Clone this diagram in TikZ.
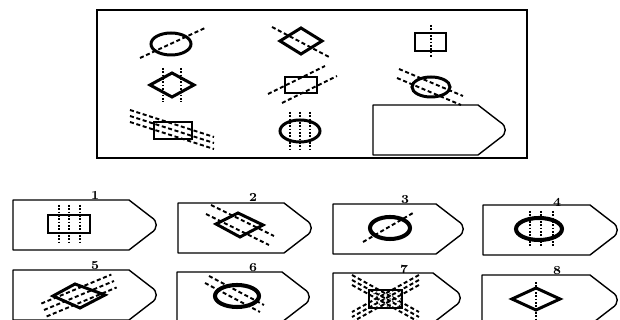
\documentclass[tikz,border=0pt]{standalone}
\usetikzlibrary{patterns}

\begin{document}
\begin{tikzpicture}[
    x=0.02cm, y=-0.02cm,
    frame/.style={draw, line width=0.9pt},
    tagline/.style={draw, line width=0.8pt, line join=round},
    fig/.style={draw, line width=1.7pt},
    heavy/.style={draw, line width=2.3pt},
    dashln/.style={line width=1.1pt, dash pattern=on 2.3pt off 1.5pt},
    dotln/.style={line width=1.3pt, dash pattern=on 1pt off 0.9pt},
    num/.style={font=\fontsize{7}{7}\selectfont\bfseries, inner sep=0pt}
]
    \path[use as bounding box, clip] (0,0) rectangle (620,320);

    % question panel
    \draw[frame] (97,10) rectangle (527,158);

    % row 1
    \draw[fig] (171,44) ellipse [x radius=20, y radius=11];
    \draw[dashln] (140,58) -- (205,28);
    \draw[fig] (280,41) -- (301,28) -- (322,41) -- (301,54) -- cycle;
    \draw[dashln] (272,27) -- (331,58);
    \draw[fig] (415,33) rectangle (446,51);
    \draw[dotln] (431,25) -- (431,58);

    % row 2
    \draw[fig] (150,85) -- (172,73) -- (194,85) -- (172,97) -- cycle;
    \draw[dotln] (163,68) -- (163,102);
    \draw[dotln] (181,68) -- (181,102);
    \draw[fig] (285,77) rectangle (317,93);
    \draw[dashln] (268,94) -- (325,66);
    \draw[dashln] (282,103) -- (337,76);
    \draw[fig] (431,87) ellipse [x radius=19, y radius=10];
    \draw[dashln] (399,69) -- (463,96);
    \draw[dashln] (397,78) -- (461,105);

    % row 3
    \draw[fig] (154,122) rectangle (192,139);
    \foreach \d in {-6,0,6}
        \draw[dashln] (130,130+\d-14) -- (214,130+\d+13);
    \draw[fig] (300,131) ellipse [x radius=20, y radius=11];
    \foreach \d in {-10,0,10}
        \draw[dotln] (300+\d,112) -- (300+\d,149);

    % empty slot and the eight answer tags: left corner x/y and width
    \foreach \x/\y/\w in {373/105/133,
                          13/200/144, 178/203/134, 333/204/131, 483/205/135,
                          13/270/144, 177/272/133, 333/273/128, 482/275/136}
        \draw[tagline] (\x,\y) -- (\x+\w-28,\y) -- (\x+\w-6,\y+17)
            .. controls (\x+\w+1,\y+21) and (\x+\w+1,\y+29) .. (\x+\w-6,\y+33)
            -- (\x+\w-28,\y+50) -- (\x,\y+50) -- cycle;

    \node[num] (n1) at (95,195)  {1};
    \node[num] (n2) at (253,197) {2};
    \node[num] (n3) at (405,200) {3};
    \node[num] (n4) at (557,202) {4};
    \node[num] (n5) at (95,266)  {5};
    \node[num] (n6) at (253,268) {6};
    \node[num] (n7) at (404,269) {7};
    \node[num] (n8) at (557,271) {8};

    % answer 1
    \draw[fig] (48,215) rectangle (90,233);
    \foreach \d in {59,69,80}
        \draw[dotln] (\d,205) -- (\d,244);
    % answer 2
    \draw[fig] (216,224) -- (238,213) -- (263,225) -- (240,237) -- cycle;
    \draw[dashln] (211,205) -- (274,236);
    \draw[dashln] (206,214) -- (269,245);
    % answer 3
    \draw[heavy] (390,228) ellipse [x radius=20, y radius=11];
    \draw[dashln] (363,242) -- (413,213);
    % answer 4
    \draw[heavy] (539,229) ellipse [x radius=23, y radius=11];
    \foreach \d in {530,541,553}
        \draw[dotln] (\d,211) -- (\d,246);

    % answer 5
    \draw[fig] (53,296) -- (75,284) -- (105,295) -- (80,308) -- cycle;
    \foreach \d in {-7,0,7}
        \draw[dashln] (44+0.38*\d,310+0.92*\d) -- (114+0.38*\d,281+0.92*\d);
    % answer 6
    \draw[heavy] (237,296) ellipse [x radius=22, y radius=11];
    \draw[dashln] (209,276) -- (264,305);
    \draw[dashln] (205,283) -- (260,312);
    % answer 7
    \draw[fig, pattern=crosshatch dots, pattern color=black!70] (369,290) rectangle (402,308);
    \foreach \d in {-5,0,5} {
        \draw[dashln] (352,280+\d) -- (419,317+\d);
        \draw[dashln] (419,280+\d) -- (352,317+\d);
    }
    % answer 8
    \draw[fig] (512,299) -- (536,288) -- (560,299) -- (536,310) -- cycle;
    \draw[dotln] (536,282) -- (536,322);
\end{tikzpicture}
\end{document}
